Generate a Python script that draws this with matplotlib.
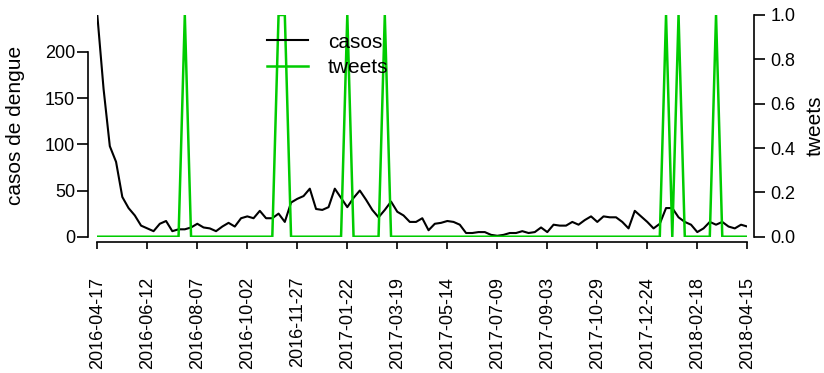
import pandas as pd
import matplotlib
matplotlib.use('Agg')
import matplotlib.pyplot as plt
import matplotlib.dates as mdates

plt.rcParams['font.family'] = 'Liberation Sans'

# casos semanais de dengue
casos = [240, 160, 98, 81, 43, 31, 23, 12, 9, 6,
         14, 17, 6, 8, 8, 10, 14, 10, 9, 6,
         11, 15, 11, 20, 22, 20, 28, 20, 20, 25,
         16, 37, 41, 44, 52, 30, 29, 32, 52, 42,
         32, 42, 50, 40, 29, 21, 29, 38, 27, 23,
         16, 16, 20, 7, 14, 15, 17, 16, 13, 4,
         4, 5, 5, 2, 1, 2, 4, 4, 6, 4,
         5, 10, 5, 13, 12, 12, 16, 13, 18, 22,
         16, 22, 21, 21, 16, 9, 28, 22, 16, 9,
         14, 31, 31, 21, 16, 13, 5, 9, 16, 13,
         16, 11, 9, 13, 11]

# tweets (0/1 por semana)
tweets = [0, 0, 0, 0, 0, 0, 0, 0, 0, 0,
          0, 0, 0, 0, 1, 0, 0, 0, 0, 0,
          0, 0, 0, 0, 0, 0, 0, 0, 0, 1,
          1, 0, 0, 0, 0, 0, 0, 0, 0, 0,
          1, 0, 0, 0, 0, 0, 1, 0, 0, 0,
          0, 0, 0, 0, 0, 0, 0, 0, 0, 0,
          0, 0, 0, 0, 0, 0, 0, 0, 0, 0,
          0, 0, 0, 0, 0, 0, 0, 0, 0, 0,
          0, 0, 0, 0, 0, 0, 0, 0, 0, 0,
          0, 1, 0, 1, 0, 0, 0, 0, 0, 1,
          0, 0, 0, 0, 0]

rotulos = ['2016-04-17', '2016-06-12', '2016-08-07', '2016-10-02',
           '2016-11-27', '2017-01-22', '2017-03-19', '2017-05-14',
           '2017-07-09', '2017-09-03', '2017-10-29', '2017-12-24',
           '2018-02-18', '2018-04-15']

semanas = pd.date_range('2016-04-17', periods=len(casos), freq='W-SUN')
ticks = mdates.date2num(pd.to_datetime(rotulos).to_pydatetime())

fig = plt.figure(figsize=(8.24, 3.73), dpi=100)
ax = fig.add_axes([0.1181, 0.3654, 0.7888, 0.5944])
l1, = ax.plot(semanas, casos, color='black', lw=1.5, label='casos')

ax2 = ax.twinx()
l2, = ax2.plot(semanas, tweets, color='#00CC00', lw=1.8, label='tweets')

ax.set_xlim(semanas[0], semanas[-1])
ax.set_ylim(0, max(casos))
ax.set_yticks([0, 50, 100, 150, 200])
ax.set_xticks(ticks)
ax.set_xticklabels(rotulos)
ax.tick_params(axis='x', labelrotation=90, labelsize=13, length=5, width=1.2, pad=20)
ax.tick_params(axis='y', labelsize=13, length=8, width=1.2, pad=1.5)
ax.set_ylabel('casos de dengue', fontsize=15)
ax.yaxis.set_label_coords(-0.111, 0.5)

ax2.set_ylim(0, 1)
ax2.set_yticks([0, 0.2, 0.4, 0.6, 0.8, 1.0])
ax2.set_yticklabels(['0.0', '0.2', '0.4', '0.6', '0.8', '1.0'])
ax2.tick_params(axis='y', labelsize=13, length=8, width=1.2, pad=4)
ax2.set_ylabel('tweets', fontsize=15)
ax2.yaxis.set_label_coords(1.089, 0.5)

for a in (ax, ax2):
    for s in ['top', 'left', 'right', 'bottom']:
        a.spines[s].set_visible(False)
ax.spines['left'].set_visible(True)
ax.spines['left'].set_position(('outward', 6.5))
ax.spines['left'].set_bounds(0, 200)
ax.spines['bottom'].set_visible(True)
ax.spines['bottom'].set_position(('outward', 4))
ax.spines['bottom'].set_bounds(ticks[0], ticks[-1])
ax2.spines['right'].set_visible(True)
ax2.spines['right'].set_position(('outward', 4.8))
ax2.spines['right'].set_bounds(0, 1)
for s in ['left', 'bottom']:
    ax.spines[s].set_linewidth(1.2)
ax2.spines['right'].set_linewidth(1.2)

ax2.legend(handles=[l1, l2], loc='center left', bbox_to_anchor=(0.261, 0.82),
           frameon=False, fontsize=15, handlelength=1.97, handletextpad=0.96,
           labelspacing=0.3, borderpad=0, borderaxespad=0)

fig.savefig('out.png', dpi=100)
